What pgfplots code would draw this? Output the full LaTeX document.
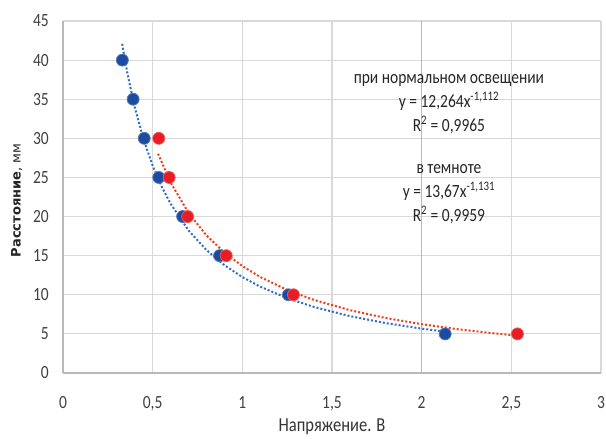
\documentclass[border=0pt]{standalone}
\usepackage{fontspec}
\setmainfont{Carlito}
\newfontfamily\dejavu{DejaVu Sans}
\usepackage{pgfplots}
\pgfplotsset{compat=1.18}
\definecolor{dotblue}{RGB}{28,76,160}
\definecolor{dotred}{RGB}{230,30,36}
\definecolor{trblue}{RGB}{46,110,200}
\definecolor{trred}{RGB}{236,64,28}
\definecolor{gridc}{RGB}{217,217,217}
\definecolor{axc}{RGB}{185,185,185}
\begin{document}
\begin{tikzpicture}
\begin{axis}[
  name=ax,
  at={(0,0)},
  width=538pt, height=352pt, scale only axis,
  xmin=0, xmax=3, ymin=0, ymax=45,
  xtick={0,0.5,1,1.5,2,2.5,3},
  ytick={0,5,...,45},
  /pgf/number format/use comma,
  /pgf/number format/assume math mode=true,
  grid=major,
  major grid style={color=gridc, line width=1.2pt},
  axis x line*=bottom, axis y line*=left,
  axis line style={color=axc, line width=1.6pt, -},
  major tick length=0pt,
  tick label style={font=\fontsize{15.5}{16}\selectfont, text=black!75, yscale=1.2},
  yticklabel style={inner sep=0pt, anchor=east, xshift=-14pt},
  xticklabel style={inner sep=0pt, anchor=north, yshift=-19pt},
  xlabel={Напряжение. В},
  ylabel={\dejavu\fontsize{13}{14}\selectfont\textbf{Расстояние}, мм},
  xlabel style={font=\fontsize{16.5}{17}\selectfont, text=black!80, yscale=1.2, at={(axis description cs:0.5,-0.153)}, anchor=center},
  ylabel style={text=black!85, at={(axis description cs:-0.086,0.49)}, anchor=center},
  clip=false,
]
\draw[axc, line width=1.6pt] (axis cs:2,0) -- (axis cs:2,45);
% trendline y = 12,264 x^-1,112 (values tabulated)
\addplot[trblue, line width=2pt, dash pattern=on 2pt off 2pt] coordinates {
(0.33,42.08) (0.36,38.20) (0.40,33.97) (0.45,29.80) (0.50,26.51) (0.55,23.84)
(0.60,21.64) (0.70,18.23) (0.80,15.72) (0.90,13.79) (1.00,12.26) (1.10,11.03)
(1.25,9.57) (1.40,8.44) (1.60,7.27) (1.80,6.38) (2.00,5.67) (2.13,5.29)};
% trendline y = 13,67 x^-1,131 (values tabulated)
\addplot[trred, line width=2pt, dash pattern=on 2pt off 2pt] coordinates {
(0.53,28.03) (0.60,24.36) (0.70,20.46) (0.80,17.59) (0.90,15.40) (1.00,13.67)
(1.10,12.27) (1.25,10.62) (1.40,9.34) (1.60,8.03) (1.80,7.03) (2.00,6.24)
(2.20,5.60) (2.40,5.08) (2.53,4.78)};
\addplot[only marks, mark=*, mark size=6pt, mark options={fill=dotblue, draw=dotblue!75!white, line width=0.8pt}] coordinates {
(0.331,40) (0.391,35) (0.453,30) (0.534,25) (0.667,20) (0.873,15) (1.257,10) (2.131,5)};
\addplot[only marks, mark=*, mark size=6pt, mark options={fill=dotred, draw=dotred!75!white, line width=0.8pt}] coordinates {
(0.534,30) (0.592,25) (0.695,20) (0.910,15) (1.285,10) (2.534,5)};
\node[align=center, font=\fontsize{15.5}{20}\selectfont, text=black!85, yscale=1.2] at (axis cs:2.152,34.4)
  {при нормальном освещении\\ y = 12,264x\textsuperscript{-1,112}\\ R\textsuperscript{2} = 0,9965};
\node[align=center, font=\fontsize{15.5}{20}\selectfont, text=black!85, yscale=1.2] at (axis cs:2.152,22.9)
  {в темноте\\ y = 13,67x\textsuperscript{-1,131}\\ R\textsuperscript{2} = 0,9959};
\end{axis}
\pgfresetboundingbox
\path[use as bounding box] ([shift={(-63pt,-65pt)}]ax.south west) rectangle ([shift={(5pt,21pt)}]ax.north east);
\end{tikzpicture}
\end{document}
